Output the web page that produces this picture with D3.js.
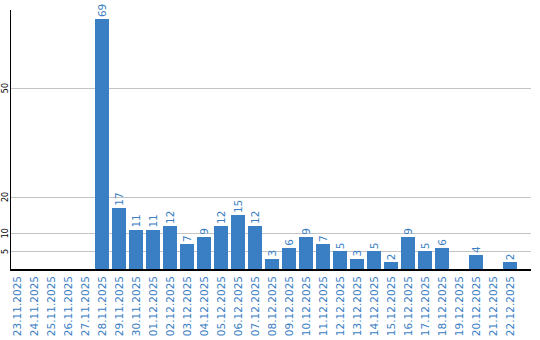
<!DOCTYPE html>
<html><head><meta charset="utf-8">
<script src="https://cdn.jsdelivr.net/npm/d3@7"></script>
<style>body{margin:0;background:#fff}svg{display:block}</style>
</head><body>
<svg id="c" width="540" height="340"></svg>
<script>
const categories = ["23.11.2025","24.11.2025","25.11.2025","26.11.2025","27.11.2025","28.11.2025","29.11.2025","30.11.2025","01.12.2025","02.12.2025","03.12.2025","04.12.2025","05.12.2025","06.12.2025","07.12.2025","08.12.2025","09.12.2025","10.12.2025","11.12.2025","12.12.2025","13.12.2025","14.12.2025","15.12.2025","16.12.2025","17.12.2025","18.12.2025","19.12.2025","20.12.2025","21.12.2025","22.12.2025"];
const values = [0,0,0,0,0,69,17,11,11,12,7,9,12,15,12,3,6,9,7,5,3,5,2,9,5,6,0,4,0,2];
const yTicks = [5,10,20,50];

const svg = d3.select("#c");
const blue = "#3a7ec3";
// step 17, bar 14
const x = d3.scaleBand().domain(categories).range([10, 517]).paddingInner(3/17).paddingOuter(0);
const y = d3.scaleLinear().domain([0, 71.5]).range([269.5, 10]);

// gridlines
svg.append("g").selectAll("line").data(yTicks).join("line")
  .attr("x1", 10).attr("x2", 531)
  .attr("y1", d => Math.round(y(d)) + 0.5).attr("y2", d => Math.round(y(d)) + 0.5)
  .attr("stroke", "#c4c4c4").attr("stroke-width", 1);

// y tick labels
svg.append("g").selectAll("text").data(yTicks).join("text")
  .attr("transform", d => `translate(8,${y(d)}) rotate(-90)`)
  .attr("text-anchor", "middle")
  .attr("font-family", "DejaVu Sans")
  .attr("font-size", 8)
  .attr("fill", "#000")
  .text(d => d);

// bars
svg.append("g").selectAll("rect").data(values).join("rect")
  .attr("x", (d, i) => x(categories[i]))
  .attr("width", x.bandwidth())
  .attr("y", d => y(d))
  .attr("height", d => y(0) - y(d))
  .attr("fill", blue)
  .attr("shape-rendering", "crispEdges");

// value labels
svg.append("g").selectAll("text").data(values.map((v, i) => ({v, i})).filter(d => d.v > 0)).join("text")
  .attr("transform", d => `translate(${x(categories[d.i]) + x.bandwidth()/2 + 4},${y(d.v) - 2}) rotate(-90)`)
  .attr("text-anchor", "start")
  .attr("font-family", "DejaVu Sans")
  .attr("font-size", 10.5)
  .attr("fill", blue)
  .text(d => d.v);

// axes lines
svg.append("line").attr("x1", 10.5).attr("x2", 10.5).attr("y1", 10).attr("y2", 270)
  .attr("stroke", "#000").attr("stroke-width", 1);
svg.append("line").attr("x1", 10).attr("x2", 531).attr("y1", 270).attr("y2", 270)
  .attr("stroke", "#000").attr("stroke-width", 2);

// category labels
svg.append("g").selectAll("text").data(categories).join("text")
  .attr("transform", d => `translate(${x(d) + x.bandwidth()/2 + 4},276) rotate(-90)`)
  .attr("text-anchor", "end")
  .attr("font-family", "DejaVu Sans")
  .attr("font-size", 10.5)
  .attr("fill", blue)
  .text(d => d);
</script>
</body></html>
